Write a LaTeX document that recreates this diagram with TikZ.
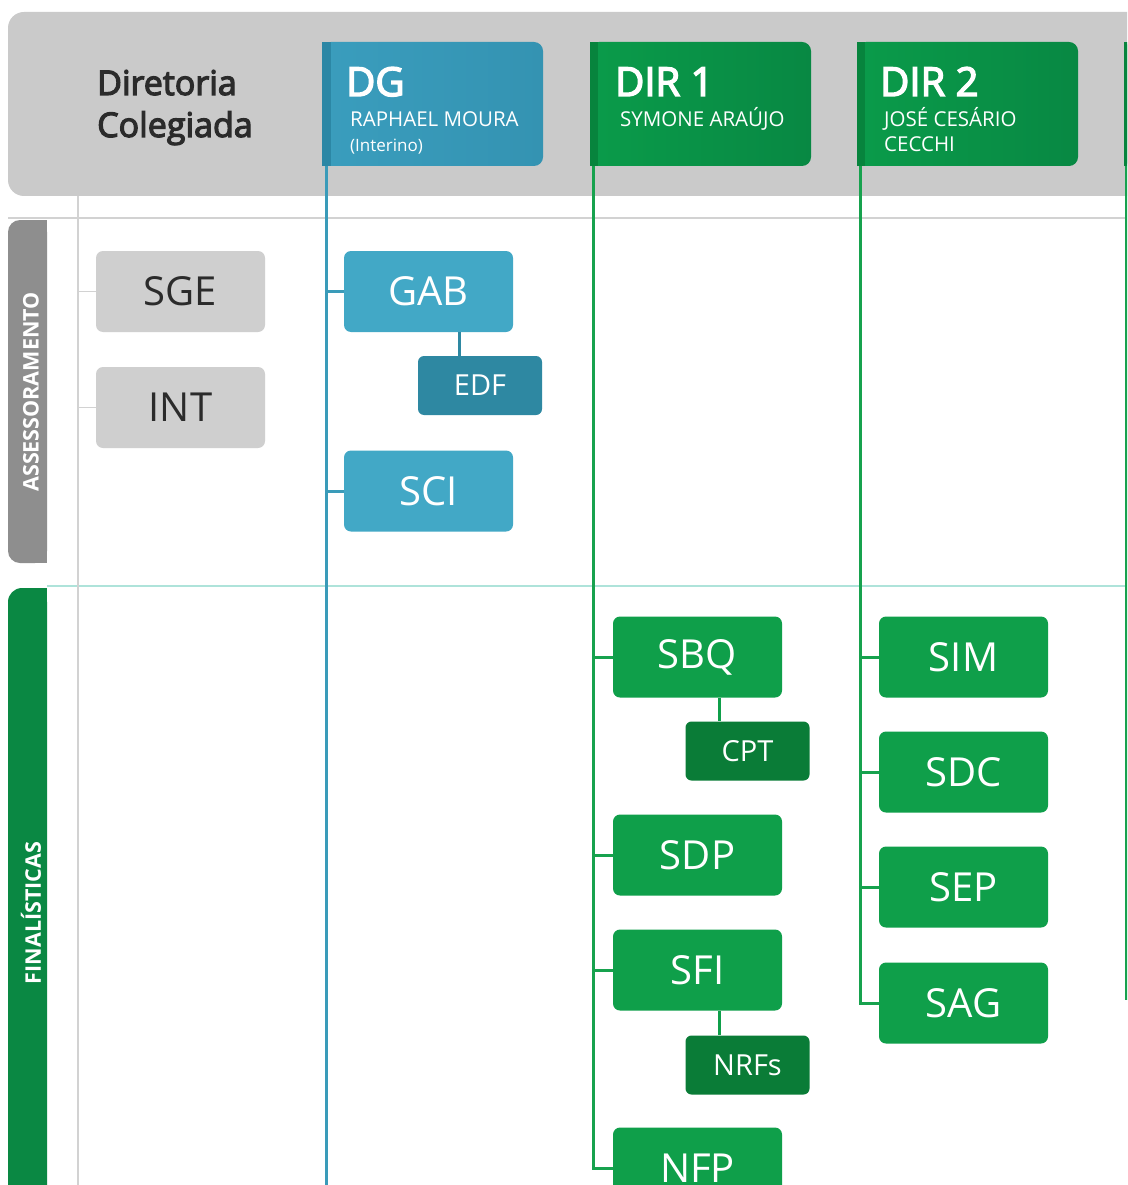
\documentclass[tikz,border=0pt]{standalone}
\usepackage{fontspec}
\setmainfont{Open Sans}
\newfontfamily\semib{Open Sans}[FakeBold=3.5]
\definecolor{band}{HTML}{CACACA}
\definecolor{dgblue}{HTML}{3A9DBD}
\definecolor{dgblueR}{HTML}{3493B2}
\definecolor{dgdark}{HTML}{2C87A5}
\definecolor{dgline}{HTML}{3A9BB9}
\definecolor{boxblue}{HTML}{42A8C6}
\definecolor{edfblue}{HTML}{2E88A2}
\definecolor{dirgreenL}{HTML}{0A9B4A}
\definecolor{dirgreenR}{HTML}{088843}
\definecolor{dirdark}{HTML}{07843D}
\definecolor{dirline}{HTML}{17A24E}
\definecolor{boxgreen}{HTML}{0F9F4A}
\definecolor{subgreen}{HTML}{0A7C37}
\definecolor{tabgray}{HTML}{8E8E8E}
\definecolor{tabgreen}{HTML}{0A8843}
\definecolor{boxgray}{HTML}{CFCFCF}
\definecolor{txtdark}{HTML}{2B2B2B}
\definecolor{rulegray}{HTML}{D2D2D2}
\definecolor{rulecyan}{HTML}{AEE3DA}
\begin{document}
\begin{tikzpicture}[x=1pt,y=-1pt,
  unit/.style={rounded corners=7pt, minimum width=169pt, minimum height=81pt, inner sep=0pt,
               font=\fontsize{40}{40}\selectfont, text=white},
  subunit/.style={rounded corners=6pt, minimum width=124pt, minimum height=59pt, inner sep=0pt,
               font=\fontsize{29}{29}\selectfont, text=white},
  hdrbox/.style={rounded corners=9pt, minimum width=221pt, minimum height=124pt, inner sep=0pt},
  hdrtitle/.style={anchor=base west, inner sep=0pt, text=white, font=\fontsize{40}{40}\semib},
  hdrname/.style={anchor=base west, inner sep=0pt, text=white, font=\fontsize{20.5}{20}\selectfont},
  blueline/.style={draw=dgline, line width=3pt},
  greenline/.style={draw=dirline, line width=3pt},
  tabtext/.style={rotate=90, text=white, inner sep=0pt, font=\fontsize{21.5}{21}\selectfont\bfseries}
]
\useasboundingbox (0,0) rectangle (1127,1185);
\clip (0,0) rectangle (1127,1185);
\fill[white] (0,0) rectangle (1127,1185);

% header band
\fill[band, rounded corners=16pt] (8,12) rectangle (1170,196);

% rules
\draw[rulegray, line width=1.2pt] (8,218) -- (1127,218);
\draw[rulecyan, line width=1.2pt] (47,586) -- (1127,586);
\draw[rulegray, line width=1.2pt] (78,196) -- (78,1185);

% side tabs
\fill[tabgray, rounded corners=12pt] (8,220) rectangle (47,563);
\fill[tabgray] (35,220) rectangle (47,563);
\node[tabtext] (tabA) at (31,392) {ASSESSORAMENTO};
\fill[tabgreen, rounded corners=14pt] (8,588) rectangle (47,1230);
\fill[tabgreen] (35,588) rectangle (47,1230);
\node[tabtext] (tabF) at (31,913) {FINALÍSTICAS};

% header title
\node[anchor=base west, inner sep=0pt, text=txtdark,
      font=\fontsize{34}{42}\semib] (dircol) at (97,95) {Diretoria};
\node[anchor=base west, inner sep=0pt, text=txtdark,
      font=\fontsize{34}{42}\semib] (dircol2) at (97,137) {Colegiada};

% director header boxes
\node[hdrbox, left color=dgblue, right color=dgblueR] (DG) at (432.5,104) {};
\fill[dgdark] (DG.north west) rectangle ([xshift=9pt]DG.south west);
\node[hdrtitle] (DGt) at (346,96) {DG};
\node[hdrname] (DGn) at (350,127) {RAPHAEL MOURA};
\node[hdrname, font=\fontsize{17}{17}\selectfont] (DGi) at (350,152) {(Interino)};

\node[hdrbox, left color=dirgreenL, right color=dirgreenR] (D1) at (700.5,104) {};
\fill[dirdark] (D1.north west) rectangle ([xshift=8pt]D1.south west);
\node[hdrtitle] (D1t) at (615,96) {DIR 1};
\node[hdrname] (D1n) at (620,127) {SYMONE ARAÚJO};

\node[hdrbox, left color=dirgreenL, right color=dirgreenR] (D2) at (967.5,104) {};
\fill[dirdark] (D2.north west) rectangle ([xshift=8pt]D2.south west);
\node[hdrtitle] (D2t) at (880,96) {DIR 2};
\node[hdrname] (D2n) at (884,127) {JOSÉ CESÁRIO};
\node[hdrname] (D2n2) at (884,152) {CECCHI};

\node[hdrbox, left color=dirgreenL, right color=dirgreenR, anchor=west] (D3) at (1124,104) {};
\fill[dirdark] (D3.north west) rectangle ([xshift=8pt]D3.south west);

% line coordinates
\coordinate (dgtop) at (326,166);
\coordinate (dgbot) at (326,1185);
\coordinate (d1top) at (593.5,166);
\coordinate (d2top) at (860.5,166);
\coordinate (d3top) at (1126,166);
\coordinate (d3bot) at (1126,1000);
\coordinate (colL) at (78,300);

% units
\node[unit, fill=boxgray, text=txtdark] (SGE) at (180.5,291.5) {SGE};
\node[unit, fill=boxgray, text=txtdark] (INT) at (180.5,407.5) {INT};
\node[unit, fill=boxblue] (GAB) at (428.5,291.5) {GAB};
\node[subunit, fill=edfblue] (EDF) at (480,385.5) {EDF};
\node[unit, fill=boxblue] (SCI) at (428.5,491) {SCI};

\node[unit, fill=boxgreen] (SBQ) at (697.5,657) {SBQ};
\node[subunit, fill=subgreen] (CPT) at (747.5,751) {CPT};
\node[unit, fill=boxgreen] (SDP) at (697.5,855) {SDP};
\node[unit, fill=boxgreen] (SFI) at (697.5,970) {SFI};
\node[subunit, fill=subgreen] (NRF) at (747.5,1065) {NRFs};
\node[unit, fill=boxgreen] (NFP) at (697.5,1168) {NFP};

\node[unit, fill=boxgreen] (SIM) at (963.5,657) {SIM};
\node[unit, fill=boxgreen] (SDC) at (963.5,772) {SDC};
\node[unit, fill=boxgreen] (SEP) at (963.5,887) {SEP};
\node[unit, fill=boxgreen] (SAG) at (963.5,1003) {SAG};

% connectors: colegiada
\draw[rulegray, line width=1.5pt] (SGE.west) -- (SGE.west -| colL);
\draw[rulegray, line width=1.5pt] (INT.west) -- (INT.west -| colL);

% DG
\draw[blueline] (dgtop) -- (dgbot);
\draw[blueline] (GAB.west) -- (GAB.west -| dgtop);
\draw[blueline] (SCI.west) -- (SCI.west -| dgtop);
\draw[blueline, draw=edfblue] ([xshift=31pt]GAB.south) -- ([xshift=31pt]GAB.south |- EDF.north);

% DIR 1
\draw[greenline] (d1top) -- (NFP.west -| d1top) -- (NFP.west);
\draw[greenline] (SBQ.west) -- (SBQ.west -| d1top);
\draw[greenline] (SDP.west) -- (SDP.west -| d1top);
\draw[greenline] (SFI.west) -- (SFI.west -| d1top);
\draw[greenline, draw=boxgreen] ([xshift=22pt]SBQ.south) -- ([xshift=22pt]SBQ.south |- CPT.north);
\draw[greenline, draw=boxgreen] ([xshift=22pt]SFI.south) -- ([xshift=22pt]SFI.south |- NRF.north);

% DIR 2
\draw[greenline] (d2top) -- (SAG.west -| d2top) -- (SAG.west);
\draw[greenline] (SIM.west) -- (SIM.west -| d2top);
\draw[greenline] (SDC.west) -- (SDC.west -| d2top);
\draw[greenline] (SEP.west) -- (SEP.west -| d2top);

% DIR 3 (partial)
\draw[greenline] (d3top) -- (d3bot);
\end{tikzpicture}
\end{document}
